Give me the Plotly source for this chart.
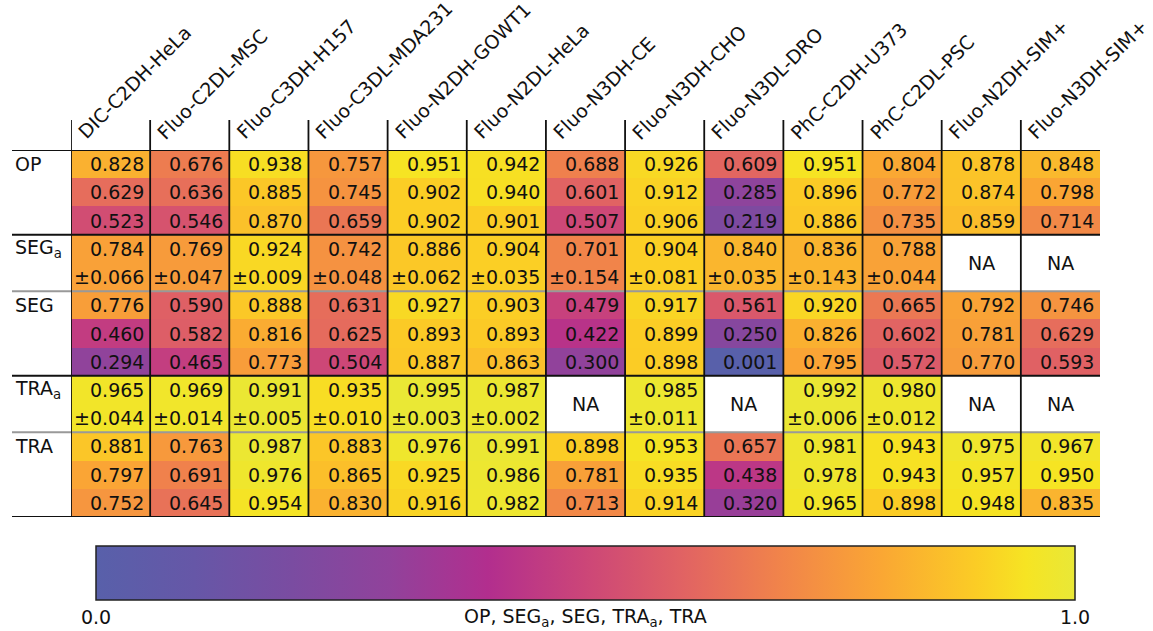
import plotly.graph_objects as go

W, H = 1153, 631
FONT = "DejaVu Sans"

datasets = ["DIC-C2DH-HeLa", "Fluo-C2DL-MSC", "Fluo-C3DH-H157", "Fluo-C3DL-MDA231",
            "Fluo-N2DH-GOWT1", "Fluo-N2DL-HeLa", "Fluo-N3DH-CE", "Fluo-N3DH-CHO",
            "Fluo-N3DL-DRO", "PhC-C2DH-U373", "PhC-C2DL-PSC", "Fluo-N2DH-SIM+", "Fluo-N3DH-SIM+"]

op_1 = [0.828, 0.676, 0.938, 0.757, 0.951, 0.942, 0.688, 0.926, 0.609, 0.951, 0.804, 0.878, 0.848]
op_2 = [0.629, 0.636, 0.885, 0.745, 0.902, 0.940, 0.601, 0.912, 0.285, 0.896, 0.772, 0.874, 0.798]
op_3 = [0.523, 0.546, 0.870, 0.659, 0.902, 0.901, 0.507, 0.906, 0.219, 0.886, 0.735, 0.859, 0.714]
sega_mean = [0.784, 0.769, 0.924, 0.742, 0.886, 0.904, 0.701, 0.904, 0.840, 0.836, 0.788, None, None]
sega_std = [0.066, 0.047, 0.009, 0.048, 0.062, 0.035, 0.154, 0.081, 0.035, 0.143, 0.044, None, None]
seg_1 = [0.776, 0.590, 0.888, 0.631, 0.927, 0.903, 0.479, 0.917, 0.561, 0.920, 0.665, 0.792, 0.746]
seg_2 = [0.460, 0.582, 0.816, 0.625, 0.893, 0.893, 0.422, 0.899, 0.250, 0.826, 0.602, 0.781, 0.629]
seg_3 = [0.294, 0.465, 0.773, 0.504, 0.887, 0.863, 0.300, 0.898, 0.001, 0.795, 0.572, 0.770, 0.593]
traa_mean = [0.965, 0.969, 0.991, 0.935, 0.995, 0.987, None, 0.985, None, 0.992, 0.980, None, None]
traa_std = [0.044, 0.014, 0.005, 0.010, 0.003, 0.002, None, 0.011, None, 0.006, 0.012, None, None]
tra_1 = [0.881, 0.763, 0.987, 0.883, 0.976, 0.991, 0.898, 0.953, 0.657, 0.981, 0.943, 0.975, 0.967]
tra_2 = [0.797, 0.691, 0.976, 0.865, 0.925, 0.986, 0.781, 0.935, 0.438, 0.978, 0.943, 0.957, 0.950]
tra_3 = [0.752, 0.645, 0.954, 0.830, 0.916, 0.982, 0.713, 0.914, 0.320, 0.965, 0.898, 0.948, 0.835]

row_labels = ["OP", "SEG<sub>a</sub>", "SEG", "TRA<sub>a</sub>", "TRA"]
row_label_pos = [0, 3, 5, 8, 10]
cbar_title = "OP, SEG<sub>a</sub>, SEG, TRA<sub>a</sub>, TRA"

colorscale = [
    [0.0, "rgb(88,96,170)"], [0.1, "rgb(102,87,167)"], [0.2, "rgb(122,76,161)"],
    [0.3, "rgb(145,66,155)"], [0.4, "rgb(178,46,142)"], [0.5, "rgb(204,70,120)"],
    [0.6, "rgb(225,99,99)"], [0.7, "rgb(241,132,74)"], [0.8, "rgb(250,166,52)"],
    [0.9, "rgb(251,205,37)"], [0.95, "rgb(246,228,35)"], [1.0, "rgb(233,232,55)"],
]

# colour matrix: a-rows coloured by their mean
z = [op_1, op_2, op_3, sega_mean, sega_mean, seg_1, seg_2, seg_3,
     traa_mean, traa_mean, tra_1, tra_2, tra_3]
ncol = len(datasets)
nrow = len(z)

top_px, bot_px, left_px, right_px = 150, 517, 71, 1100
FS = 19

fig = go.Figure(go.Heatmap(
    z=z, x=list(range(ncol)), y=list(range(nrow)),
    zmin=0, zmax=1, colorscale=colorscale, hoverongaps=False,
    colorbar=dict(orientation="h", lenmode="pixels", len=979, thicknessmode="pixels",
                  thickness=54, x=585.5 / W, xanchor="center", y=(H - 546) / H,
                  yanchor="top", xpad=0, ypad=0, outlinewidth=1.5, outlinecolor="#222",
                  tickvals=[0, 1], ticktext=["0.0", "1.0"], ticks="",
                  tickfont=dict(family=FONT, size=FS, color="#111")),
))

ann = []
def cell_text(row, vals, fmt):
    for i, v in enumerate(vals):
        if v is None:
            continue
        ann.append(dict(x=i + 0.5, y=row, xref="x", yref="y", text=fmt.format(v),
                        xanchor="right", yanchor="middle", xshift=-4, showarrow=False,
                        font=dict(family=FONT, size=FS, color="#111")))

for r, vals in enumerate([op_1, op_2, op_3]):
    cell_text(r, vals, "{:.3f}")
cell_text(3, sega_mean, "{:.3f}")
cell_text(4, sega_std, "±{:.3f}")
for r, vals in zip([5, 6, 7], [seg_1, seg_2, seg_3]):
    cell_text(r, vals, "{:.3f}")
cell_text(8, traa_mean, "{:.3f}")
cell_text(9, traa_std, "±{:.3f}")
for r, vals in zip([10, 11, 12], [tra_1, tra_2, tra_3]):
    cell_text(r, vals, "{:.3f}")

for rowc, mvals in [(3.5, sega_mean), (8.5, traa_mean)]:
    for i, v in enumerate(mvals):
        if v is None:
            ann.append(dict(x=i, y=rowc, xref="x", yref="y", text="NA", showarrow=False,
                            xanchor="center", yanchor="middle",
                            font=dict(family=FONT, size=FS, color="#111")))

for lab, r in zip(row_labels, row_label_pos):
    ann.append(dict(x=13 / W, y=r, xref="paper", yref="y", text=lab, showarrow=False,
                    xanchor="left", yanchor="middle",
                    font=dict(family=FONT, size=FS, color="#111")))

for i, name in enumerate(datasets):
    ann.append(dict(x=i - 0.5, y=(H - 146) / H, xref="x", yref="paper", text=name,
                    textangle=-45, xanchor="left", yanchor="bottom", xshift=0,
                    showarrow=False, font=dict(family=FONT, size=FS, color="#111")))

ann.append(dict(x=585.5 / W, y=(H - 617) / H, xref="paper", yref="paper", text=cbar_title,
                showarrow=False, xanchor="center", yanchor="middle",
                font=dict(family=FONT, size=FS, color="#111")))

shapes = []
# horizontal separators
for yb, col in [(-0.5, "#111"), (2.5, "#111"), (4.5, "#999"), (7.5, "#111"),
                (9.5, "#999"), (12.5, "#111")]:
    shapes.append(dict(type="line", xref="paper", yref="y", x0=12 / W, x1=right_px / W,
                       y0=yb, y1=yb, line=dict(color=col, width=2)))
# vertical separators
for i in range(ncol):
    shapes.append(dict(type="line", xref="x", yref="paper", x0=i - 0.5, x1=i - 0.5,
                       y0=(H - 120) / H, y1=(H - bot_px) / H,
                       line=dict(color="#111", width=1.8)))

fig.update_layout(
    width=W, height=H, margin=dict(l=0, r=0, t=0, b=0),
    paper_bgcolor="white", plot_bgcolor="white",
    xaxis=dict(domain=[left_px / W, right_px / W], range=[-0.5, ncol - 0.5],
               visible=False, fixedrange=True),
    yaxis=dict(domain=[(H - bot_px) / H, (H - top_px) / H], range=[nrow - 0.5, -0.5],
               visible=False, fixedrange=True),
    annotations=ann, shapes=shapes, showlegend=False,
)

fig.write_html("out.html", config={"displayModeBar": False},
               post_script="document.body.style.margin='0';document.body.style.overflow='hidden';")
